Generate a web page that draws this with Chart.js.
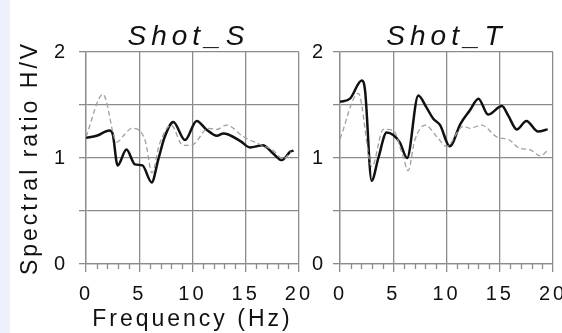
<!DOCTYPE html>
<html>
<head>
<meta charset="utf-8">
<script src="https://cdn.jsdelivr.net/npm/chart.js@4/dist/chart.umd.min.js"></script>
<style>
  html, body { margin: 0; padding: 0; background: #fff; overflow: hidden; }
  body { width: 562px; height: 333px; position: relative; }
  #strip { position: absolute; left: 0; top: 0; width: 10px; height: 333px; background: #eef0fa; }
  #c1 { position: absolute; left: 0; top: 0; }
  #c2 { position: absolute; left: 300px; top: 0; }
</style>
</head>
<body>
<div id="strip"></div>
<canvas id="c1" width="320" height="333"></canvas>
<canvas id="c2" width="280" height="333"></canvas>
<script>
// Shot_S
const freqS_solid = [0, 1.0, 2.2, 2.5, 2.97, 3.8, 4.6, 5.3, 6.17, 6.8, 7.4, 8.2, 9.3, 10.4, 11.3, 12.3, 12.9, 14.5, 15.4, 16.6, 17.6, 18.4, 19.2, 19.5];
const ratioS_solid = [1.19, 1.21, 1.26, 1.23, 0.93, 1.08, 0.94, 0.93, 0.77, 0.99, 1.2, 1.34, 1.17, 1.35, 1.27, 1.21, 1.23, 1.16, 1.10, 1.12, 1.04, 0.98, 1.06, 1.07];
const freqS_dash = [0, 1.6, 2.9, 3.6, 4.3, 5.2, 5.6, 6.2, 6.9, 8.0, 9.1, 9.9, 11.5, 12.3, 13.2, 14.8, 16.3, 17.6, 18.5, 19.3];
const ratioS_dash = [1.2, 1.6, 1.15, 1.22, 1.28, 1.24, 1.15, 0.86, 1.13, 1.31, 1.12, 1.12, 1.28, 1.27, 1.31, 1.2, 1.13, 1.07, 0.99, 1.06];

// Shot_T
const freqT_solid = [0, 0.94, 2.04, 2.35, 2.97, 3.6, 4.38, 5.6, 6.3, 7.35, 8.1, 8.76, 9.4, 10.3, 11.3, 12.2, 13.0, 13.9, 15.2, 15.8, 16.6, 17.5, 18.6, 19.5];
const ratioT_solid = [1.53, 1.56, 1.73, 1.64, 0.785, 1.0, 1.24, 1.15, 1.0, 1.59, 1.48, 1.37, 1.31, 1.11, 1.32, 1.45, 1.56, 1.41, 1.49, 1.40, 1.27, 1.35, 1.25, 1.27];
const freqT_dash = [0, 1.72, 3.0, 4.07, 5.0, 5.9, 6.4, 7.0, 8.0, 9.1, 10.0, 11.6, 12.2, 13.3, 14.7, 15.9, 16.9, 17.8, 18.8, 19.5];
const ratioT_dash = [1.18, 1.61, 0.92, 1.27, 1.26, 1.02, 0.88, 1.16, 1.31, 1.20, 1.11, 1.30, 1.28, 1.31, 1.2, 1.17, 1.09, 1.08, 1.02, 1.07];

const xMajor = [0, 5, 10, 15, 20];
const yLabels = [0, 1, 2];

const gridColor = "#8c8c8c";
const fontFamily = "'Liberation Sans', Arial, sans-serif";

function toPoints(xs, ys) {
  return xs.map((x, i) => ({ x: x, y: ys[i] }));
}

// titles + short minor ticks under the x axis
const extras = {
  id: "extras",
  beforeDraw(chart) {
    chart.ctx.letterSpacing = "3px";
  },
  afterDraw(chart, args, opts) {
    const ctx = chart.ctx;
    const xs = chart.scales.x;
    const area = chart.chartArea;
    ctx.save();
    ctx.strokeStyle = gridColor;
    ctx.lineWidth = 1.3;
    for (let v = 1; v < 20; v++) {
      if (v % 5 === 0) continue;
      const px = Math.round(xs.getPixelForValue(v)) + 0.5;
      ctx.beginPath();
      ctx.moveTo(px, area.bottom);
      ctx.lineTo(px, area.bottom + 5);
      ctx.stroke();
    }
    ctx.letterSpacing = "5px";
    ctx.fillStyle = "#111";
    ctx.font = "italic 28px " + fontFamily;
    ctx.textAlign = "center";
    ctx.textBaseline = "alphabetic";
    ctx.fillText(opts.text, (area.left + area.right) / 2 + opts.shift, 45);
    ctx.restore();
  }
};

function makeChart(id, solid, dash, cfg) {
  return new Chart(document.getElementById(id), {
    type: "line",
    data: {
      datasets: [
        {
          data: dash,
          borderColor: "#a0a0a0",
          borderWidth: 1.3,
          borderDash: [5, 3],
          pointRadius: 0,
          cubicInterpolationMode: "monotone"
        },
        {
          data: solid,
          borderColor: "#111",
          borderWidth: 2.5,
          pointRadius: 0,
          cubicInterpolationMode: "monotone"
        }
      ]
    },
    options: {
      responsive: false,
      animation: false,
      events: [],
      layout: { padding: { left: 0, top: 52, right: cfg.padRight, bottom: 0 } },
      plugins: {
        legend: { display: false },
        tooltip: { enabled: false },
        extras: { text: cfg.title, shift: cfg.shift }
      },
      scales: {
        x: {
          type: "linear",
          min: 0,
          max: 20,
          afterFit: s => { s.height = 69; },
          afterBuildTicks: s => { s.ticks = xMajor.map(v => ({ value: v })); },
          ticks: {
            autoSkip: false,
            maxRotation: 0,
            padding: 10,
            color: "#111",
            font: { family: fontFamily, size: 20 }
          },
          grid: { color: gridColor, lineWidth: 1.3, tickLength: 8, tickColor: gridColor },
          border: { color: gridColor, width: 1.3 },
          title: {
            display: cfg.showX,
            text: "Frequency (Hz)",
            color: "#111",
            font: { family: fontFamily, size: 23 },
            padding: { top: 0, bottom: 0 }
          }
        },
        y: {
          min: 0,
          max: 2,
          afterFit: s => { s.width = cfg.yWidth; },
          ticks: {
            stepSize: 0.5,
            padding: cfg.yPad,
            color: "#111",
            font: { family: fontFamily, size: 20 },
            callback: v => (yLabels.includes(v) ? v : "")
          },
          grid: { color: gridColor, lineWidth: 1.3, tickLength: 7, tickColor: gridColor },
          border: { color: gridColor, width: 1.3 },
          title: {
            display: cfg.showY,
            text: "Spectral ratio H/V",
            color: "#111",
            font: { family: fontFamily, size: 23 },
            padding: { top: 17, bottom: 0 }
          }
        }
      }
    },
    plugins: [extras]
  });
}

makeChart("c1", toPoints(freqS_solid, ratioS_solid), toPoints(freqS_dash, ratioS_dash),
  { title: "Shot_S", shift: -4, padRight: 21, yWidth: 86, yPad: 11, showX: true, showY: true });
makeChart("c2", toPoints(freqT_solid, ratioT_solid), toPoints(freqT_dash, ratioT_dash),
  { title: "Shot_T", shift: 0, padRight: 27, yWidth: 40, yPad: 7, showX: false, showY: false });
</script>
</body>
</html>
